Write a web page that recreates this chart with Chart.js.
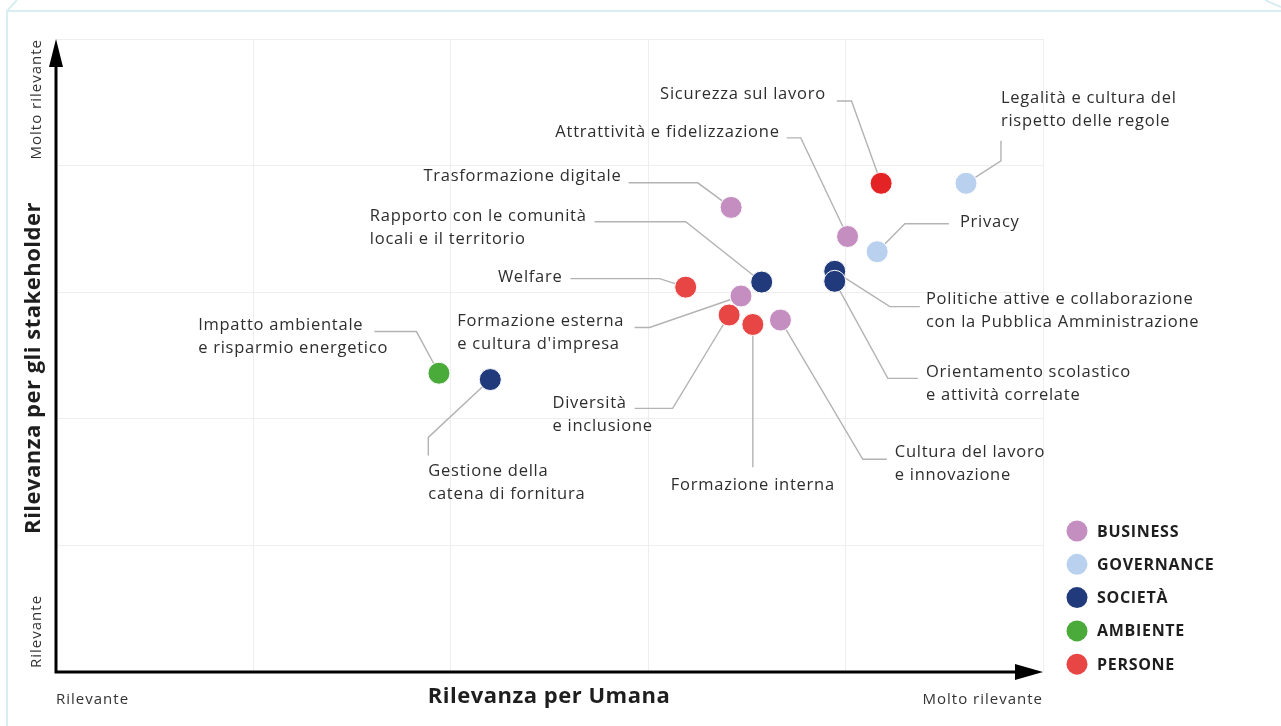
<!DOCTYPE html>
<html>
<head>
<meta charset="utf-8">
<script src="https://cdn.jsdelivr.net/npm/chart.js@4.4.1/dist/chart.umd.min.js"></script>
<style>
  html, body { margin: 0; padding: 0; background: #ffffff; }
  #wrap { width: 1281px; height: 726px; position: relative; }
  canvas { display: block; }
</style>
</head>
<body>
<div id="wrap"><canvas id="c" width="1281" height="726"></canvas></div>
<script>
// ---------------- DATA ----------------
const categories = ['BUSINESS', 'GOVERNANCE', 'SOCIETÀ', 'AMBIENTE', 'PERSONE'];

const businessTopics = ['Trasformazione digitale', 'Attrattività e fidelizzazione', "Formazione esterna e cultura d'impresa", 'Cultura del lavoro e innovazione'];
const businessX = [3.42, 4.01, 3.47, 3.67];
const businessY = [3.67, 3.44, 2.97, 2.78];

const governanceTopics = ['Legalità e cultura del rispetto delle regole', 'Privacy'];
const governanceX = [4.61, 4.16];
const governanceY = [3.86, 3.32];

const societaTopics = ['Rapporto con le comunità locali e il territorio', 'Politiche attive e collaborazione con la Pubblica Amministrazione', 'Orientamento scolastico e attività correlate', 'Gestione della catena di fornitura'];
const societaX = [3.575, 3.945, 3.945, 2.20];
const societaY = [3.08, 3.165, 3.086, 2.31];

const ambienteTopics = ['Impatto ambientale e risparmio energetico'];
const ambienteX = [1.94];
const ambienteY = [2.36];

const personeTopics = ['Sicurezza sul lavoro', 'Welfare', 'Diversità e inclusione', 'Formazione interna'];
const personeX = [4.18, 3.19, 3.41, 3.53];
const personeY = [3.86, 3.04, 2.82, 2.745];

const axisTickLabels = ['Rilevante', 'Molto rilevante'];
const xTitle = 'Rilevanza per Umana';
const yTitle = 'Rilevanza per gli stakeholder';

// ---------------- STYLE / LAYOUT ----------------
const seriesColors = ['#c48fc0', '#b9d1ee', '#213a7c', '#4aaa3a', '#e84545'];
const personePointColors = ['#e42424', '#e84545', '#e84545', '#e84545'];

// callout layout in data units: text anchor, alignment, elbow path (ends at the point)
const calloutLayout = [
  { name: 'Sicurezza sul lavoro', lines: ['Sicurezza sul lavoro'], tx: 3.90, ty: 4.56, align: 'right', path: [[3.955, 4.51], [4.03, 4.51]] },
  { name: 'Legalità e cultura del rispetto delle regole', lines: ['Legalità e cultura del', 'rispetto delle regole'], tx: 4.787, ty: 4.53, align: 'left', path: [[4.787, 4.196], [4.787, 4.038]] },
  { name: 'Attrattività e fidelizzazione', lines: ['Attrattività e fidelizzazione'], tx: 3.666, ty: 4.267, align: 'right', path: [[3.702, 4.219], [3.773, 4.219]] },
  { name: 'Trasformazione digitale', lines: ['Trasformazione digitale'], tx: 2.865, ty: 3.912, align: 'right', path: [[2.901, 3.864], [3.251, 3.864]] },
  { name: 'Privacy', lines: ['Privacy'], tx: 4.579, ty: 3.549, align: 'left', path: [[4.523, 3.541], [4.30, 3.541]] },
  { name: 'Rapporto con le comunità locali e il territorio', lines: ['Rapporto con le comunità', 'locali e il territorio'], tx: 2.688, ty: 3.596, align: 'right', alignAll: 'left', path: [[2.728, 3.557], [3.19, 3.557]] },
  { name: 'Welfare', lines: ['Welfare'], tx: 2.566, ty: 3.115, align: 'right', path: [[2.606, 3.107], [3.058, 3.107]] },
  { name: "Formazione esterna e cultura d'impresa", lines: ['Formazione esterna', "e cultura d'impresa"], tx: 2.033, ty: 2.768, align: 'left', path: [[2.931, 2.721], [3.007, 2.721]] },
  { name: 'Impatto ambientale e risparmio energetico', lines: ['Impatto ambientale', 'e risparmio energetico'], tx: 0.72, ty: 2.737, align: 'left', path: [[1.613, 2.689], [1.826, 2.689]] },
  { name: 'Gestione della catena di fornitura', lines: ['Gestione della', 'catena di fornitura'], tx: 1.886, ty: 1.585, align: 'left', path: [[1.886, 1.711], [1.886, 1.853]] },
  { name: 'Diversità e inclusione', lines: ['Diversità', 'e inclusione'], tx: 2.515, ty: 2.121, align: 'left', path: [[2.931, 2.082], [3.124, 2.082]] },
  { name: 'Formazione interna', lines: ['Formazione interna'], tx: 3.53, ty: 1.475, align: 'center', path: [[3.53, 1.617]] },
  { name: 'Cultura del lavoro e innovazione', lines: ['Cultura del lavoro', 'e innovazione'], tx: 4.249, ty: 1.735, align: 'left', path: [[4.209, 1.68], [4.087, 1.68]] },
  { name: 'Politiche attive e collaborazione con la Pubblica Amministrazione', lines: ['Politiche attive e collaborazione', 'con la Pubblica Amministrazione'], tx: 4.407, ty: 2.942, align: 'left', path: [[4.376, 2.886], [4.224, 2.886]] },
  { name: 'Orientamento scolastico e attività correlate', lines: ['Orientamento scolastico', 'e attività correlate'], tx: 4.407, ty: 2.366, align: 'left', path: [[4.366, 2.319], [4.214, 2.319]] }
];

const FONT = '"Open Sans", Lato, sans-serif';

function pts(names, xs, ys) {
  return names.map((n, i) => ({ x: xs[i], y: ys[i], name: n }));
}

const datasets = [
  { label: categories[0], data: pts(businessTopics, businessX, businessY), backgroundColor: seriesColors[0] },
  { label: categories[1], data: pts(governanceTopics, governanceX, governanceY), backgroundColor: seriesColors[1] },
  { label: categories[2], data: pts(societaTopics, societaX, societaY), backgroundColor: seriesColors[2] },
  { label: categories[3], data: pts(ambienteTopics, ambienteX, ambienteY), backgroundColor: seriesColors[3] },
  { label: categories[4], data: pts(personeTopics, personeX, personeY), backgroundColor: seriesColors[4], pointBackgroundColor: personePointColors }
].map(d => Object.assign({
  pointRadius: 11, pointHoverRadius: 11, borderColor: '#ffffff', pointBorderColor: '#ffffff', pointBorderWidth: 1
}, d));

function findPoint(name) {
  for (const ds of datasets) for (const p of ds.data) if (p.name === name) return p;
  return null;
}

// right-aligned text that stays correct with letter spacing
function fillAligned(ctx, text, x, y, align) {
  const w = ctx.measureText(text).width;
  let sx = x;
  if (align === 'right') sx = x - w;
  else if (align === 'center') sx = x - w / 2;
  ctx.textAlign = 'left';
  ctx.fillText(text, sx, y);
}

const overlay = {
  id: 'overlay',
  beforeDraw(chart) {
    const ctx = chart.ctx;
    ctx.save();
    ctx.fillStyle = '#ffffff';
    ctx.fillRect(0, 0, chart.width, chart.height);
    // frame
    ctx.strokeStyle = '#d8eef0';
    ctx.lineWidth = 2;
    ctx.beginPath();
    ctx.moveTo(7, chart.height);
    ctx.lineTo(7, 11);
    ctx.lineTo(chart.width, 11);
    ctx.moveTo(7, 11);
    ctx.lineTo(17, 0);
    ctx.moveTo(1265, 0);
    ctx.lineTo(chart.width, 7);
    ctx.stroke();
    ctx.restore();
  },
  beforeDatasetsDraw(chart) {
    const ctx = chart.ctx;
    const sx = chart.scales.x, sy = chart.scales.y;
    ctx.save();
    ctx.strokeStyle = '#b3b3b3';
    ctx.lineWidth = 1.4;
    ctx.fillStyle = '#2e2e2e';
    ctx.font = '400 16.5px ' + FONT;
    ctx.letterSpacing = '0.75px';
    ctx.textBaseline = 'middle';
    for (const c of calloutLayout) {
      const p = findPoint(c.name);
      ctx.beginPath();
      c.path.forEach((q, i) => {
        const X = sx.getPixelForValue(q[0]), Y = sy.getPixelForValue(q[1]);
        if (i === 0) ctx.moveTo(X, Y); else ctx.lineTo(X, Y);
      });
      ctx.lineTo(sx.getPixelForValue(p.x), sy.getPixelForValue(p.y));
      ctx.stroke();
      const tx = sx.getPixelForValue(c.tx), ty = sy.getPixelForValue(c.ty);
      if (c.alignAll === 'left') {
        const w = ctx.measureText(c.lines[0]).width;
        c.lines.forEach((l, i) => fillAligned(ctx, l, tx - w, ty + i * 22.5, 'left'));
      } else {
        c.lines.forEach((l, i) => fillAligned(ctx, l, tx, ty + i * 22.5, c.align));
      }
    }
    ctx.restore();
  },
  afterDraw(chart) {
    const ctx = chart.ctx;
    const a = chart.chartArea;
    ctx.save();
    // axes
    ctx.strokeStyle = '#000';
    ctx.fillStyle = '#000';
    ctx.lineWidth = 3;
    ctx.beginPath();
    ctx.moveTo(a.left, a.top + 20);
    ctx.lineTo(a.left, a.bottom);
    ctx.lineTo(a.right - 20, a.bottom);
    ctx.stroke();
    ctx.beginPath();
    ctx.moveTo(a.left, a.top);
    ctx.lineTo(a.left - 7, a.top + 28);
    ctx.lineTo(a.left + 7, a.top + 28);
    ctx.closePath();
    ctx.fill();
    ctx.beginPath();
    ctx.moveTo(a.right, a.bottom);
    ctx.lineTo(a.right - 28, a.bottom - 8);
    ctx.lineTo(a.right - 28, a.bottom + 8);
    ctx.closePath();
    ctx.fill();

    // tick labels
    ctx.fillStyle = '#333';
    ctx.font = '400 15px ' + FONT;
    ctx.letterSpacing = '1px';
    ctx.textBaseline = 'middle';
    fillAligned(ctx, axisTickLabels[0], a.left, a.bottom + 28, 'left');
    fillAligned(ctx, axisTickLabels[1], a.right, a.bottom + 28, 'right');
    ctx.save();
    ctx.translate(a.left - 19, 0);
    ctx.rotate(-Math.PI / 2);
    fillAligned(ctx, axisTickLabels[1], -a.top, 0, 'right');
    fillAligned(ctx, axisTickLabels[0], -a.bottom + 4, 0, 'left');
    ctx.restore();

    // titles
    ctx.fillStyle = '#1e1e1e';
    ctx.font = 'bold 22px ' + FONT;
    ctx.letterSpacing = '0.5px';
    fillAligned(ctx, xTitle, 549, a.bottom + 25, 'center');
    ctx.save();
    ctx.translate(34, 368);
    ctx.rotate(-Math.PI / 2);
    fillAligned(ctx, yTitle, 0, 0, 'center');
    ctx.restore();

    // legend
    ctx.font = 'bold 16px ' + FONT;
    ctx.letterSpacing = '0.7px';
    chart.data.datasets.forEach((ds, i) => {
      const cy = 531 + i * 33.3;
      ctx.fillStyle = seriesColors[i];
      ctx.beginPath();
      ctx.arc(1077, cy, 10.5, 0, Math.PI * 2);
      ctx.fill();
      ctx.fillStyle = '#1e1e1e';
      fillAligned(ctx, ds.label, 1097, cy + 1, 'left');
    });
    ctx.restore();
  }
};

new Chart(document.getElementById('c'), {
  type: 'scatter',
  data: { datasets },
  options: {
    responsive: false,
    animation: false,
    layout: { padding: { left: 56, right: 238, top: 39, bottom: 54 } },
    plugins: { legend: { display: false }, tooltip: { enabled: false } },
    scales: {
      x: {
        min: 0, max: 5,
        ticks: { display: false, stepSize: 1 },
        grid: { color: '#eeeeee', lineWidth: 1, drawTicks: false },
        border: { display: false }
      },
      y: {
        min: 0, max: 5,
        ticks: { display: false, stepSize: 1 },
        grid: { color: '#eeeeee', lineWidth: 1, drawTicks: false },
        border: { display: false }
      }
    }
  },
  plugins: [overlay]
});
</script>
</body>
</html>
